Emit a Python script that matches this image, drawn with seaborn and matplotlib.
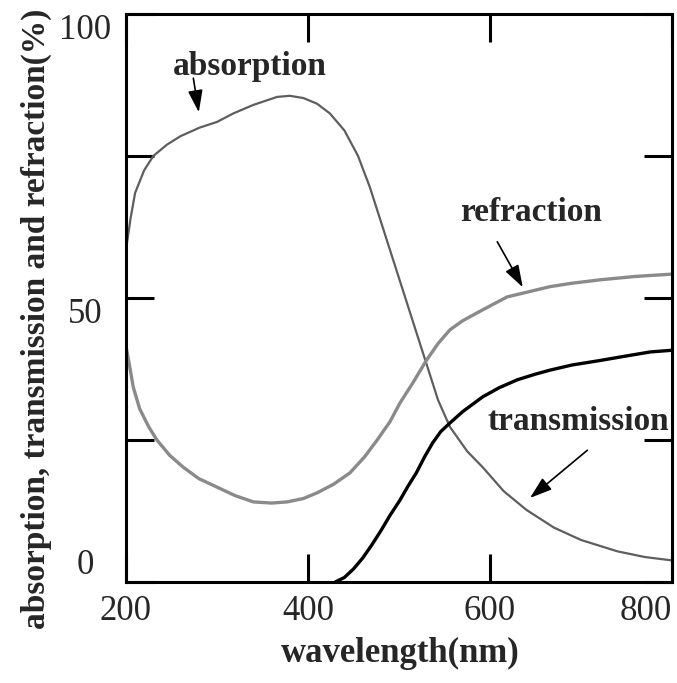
import matplotlib
matplotlib.use('Agg')
import matplotlib.pyplot as plt
import seaborn as sns
import pandas as pd

# absorption curve (wavelength nm, %)
abs_wl = [200, 205, 210, 220, 230, 245, 260, 281, 300, 318, 340, 366, 380, 395,
          410, 424, 440, 455, 468, 480, 490, 501, 515, 530, 543, 556, 575, 592,
          615, 640, 670, 700, 740, 770, 800]
abs_val = [58.5, 64, 68.5, 72.5, 75, 77, 78.5, 80, 81, 82.5, 84, 85.4, 85.6, 85.2,
           84.2, 82.5, 79.5, 75, 69.5, 63.5, 58.5, 53, 46, 38.5, 32, 27.3, 23, 20.2,
           16, 12.7, 9.6, 7.4, 5.4, 4.4, 3.8]

# refraction curve
ref_wl = [200, 204, 208, 215, 225, 234, 248, 263, 280, 300, 320, 340, 360, 377,
          395, 410, 428, 446, 462, 476, 490, 501, 515, 530, 543, 556, 570, 586,
          600, 619, 640, 666, 690, 721, 760, 800]
ref_val = [41.5, 38, 34.3, 30.5, 27.3, 25, 22.3, 20.2, 18.2, 16.7, 15.2, 14.1, 13.9, 14.1,
           14.7, 15.7, 17.2, 19.2, 22, 25, 28.2, 31.5, 35, 39, 42, 44.4, 46, 47.4,
           48.6, 50.2, 51, 52, 52.6, 53.2, 53.8, 54.2]

# transmission curve
tra_wl = [430, 440, 450, 460, 470, 480, 490, 501, 510, 519, 528, 537, 546, 556,
          570, 592, 610, 630, 650, 666, 690, 721, 750, 776, 800]
tra_val = [0, 0.8, 2.3, 4.2, 6.5, 9, 11.7, 14.4, 16.9, 19.2, 22, 24.5, 26.5, 28,
           30, 32.6, 34.2, 35.6, 36.6, 37.3, 38.2, 39, 39.8, 40.5, 40.8]

x_ticks = [200, 400, 600, 800]
x_labels = ['200', '400', '600', '800']
y_ticks = [0, 25, 50, 75, 100]
y_labels = ['0', '', '50', '', '100']

sns.set_style('ticks')
plt.rcParams['font.family'] = ['Liberation Serif', 'DejaVu Serif']

fig = plt.figure(figsize=(6.77, 6.83), dpi=100)
ax = fig.add_axes([126 / 677, 1 - 582 / 683, 546 / 677, 568 / 683])

df_abs = pd.DataFrame({'wavelength': abs_wl, 'value': abs_val})
df_ref = pd.DataFrame({'wavelength': ref_wl, 'value': ref_val})
df_tra = pd.DataFrame({'wavelength': tra_wl, 'value': tra_val})

sns.lineplot(data=df_abs, x='wavelength', y='value', color='#5e5e5e', linewidth=1.6, ax=ax)
sns.lineplot(data=df_ref, x='wavelength', y='value', color='#8a8a8a', linewidth=2.4, ax=ax)
sns.lineplot(data=df_tra, x='wavelength', y='value', color='black', linewidth=2.4, ax=ax)

ax.set_xlim(200, 800)
ax.set_ylim(0, 100)
ax.set_xticks(x_ticks)
ax.set_xticklabels(x_labels)
ax.set_yticks(y_ticks)
ax.set_yticklabels(y_labels)

for s in ax.spines.values():
    s.set_linewidth(2.2)
    s.set_color('black')

ax.tick_params(axis='both', direction='in', length=20, width=2.2, color='black',
               top=True, right=True, labelsize=25)
ax.tick_params(axis='x', pad=9)
ax.tick_params(axis='y', pad=29.5)

for lab in ax.get_yticklabels():
    lab.set_horizontalalignment('center')
ylabs = ax.get_yticklabels()
ylabs[0].set_verticalalignment('bottom')
ylabs[2].set_verticalalignment('top')
ylabs[4].set_verticalalignment('top')
ax.get_xticklabels()[-1].set_horizontalalignment('right')

ax.set_xlabel('wavelength(nm)', fontsize=25, fontweight='bold')
ax.set_ylabel('absorption, transmission and refraction(%)', fontsize=24, fontweight='bold')
ax.xaxis.set_label_coords(0.502, -0.097)
ax.yaxis.set_label_coords(-0.135, 0.463)

arrow = dict(arrowstyle='-|>,head_length=0.9,head_width=0.3', color='black',
             lw=1.2, shrinkA=0, shrinkB=0, mutation_scale=15)

ax.text(336, 90.8, 'absorption', fontsize=24, fontweight='bold', ha='center', va='center')
ax.annotate('', xy=(280, 82.7), xytext=(274, 88.7), arrowprops=arrow)

ax.text(645, 65.1, 'refraction', fontsize=24, fontweight='bold', ha='center', va='center')
ax.annotate('', xy=(636, 51.9), xytext=(608, 59.9), arrowprops=arrow)

ax.text(697, 28.2, 'transmission', fontsize=24, fontweight='bold', ha='center', va='center')
ax.annotate('', xy=(644, 14.8), xytext=(707, 23.2), arrowprops=arrow)

fig.savefig('out.png', dpi=100)
plt.close(fig)
